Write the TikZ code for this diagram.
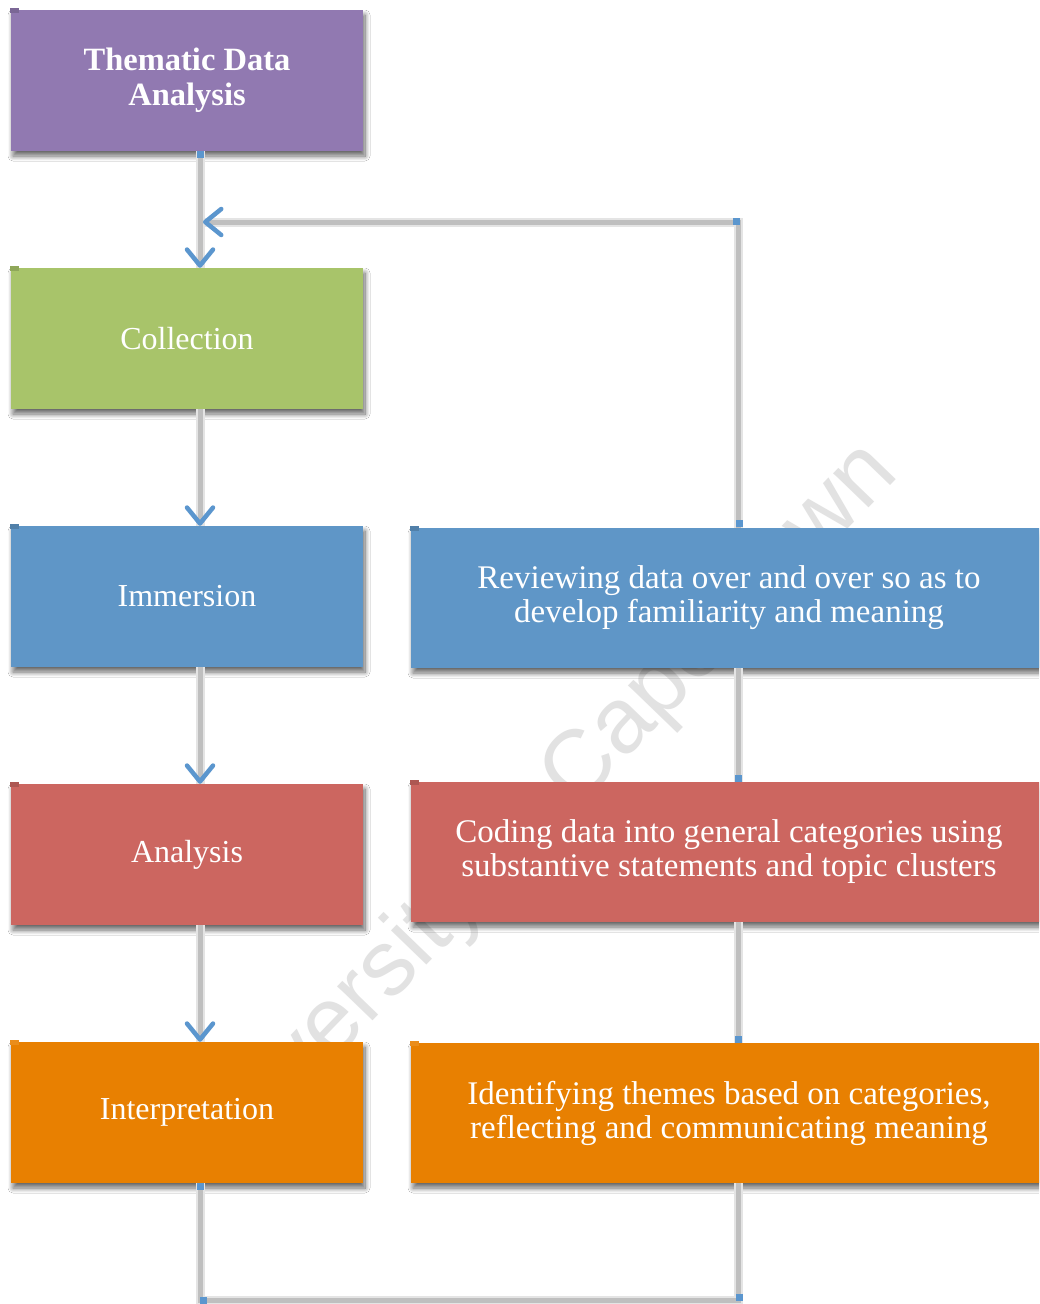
\documentclass[tikz,border=0pt]{standalone}
\usepackage{fontspec}
\setmainfont{Liberation Serif}
\newfontfamily\wmfont{Liberation Sans}
\usetikzlibrary{arrows.meta,shadows.blur,calc}

\definecolor{boxPurple}{HTML}{9179B1}
\definecolor{boxGreen}{HTML}{A8C46A}
\definecolor{boxBlue}{HTML}{5F96C7}
\definecolor{boxRed}{HTML}{CC6660}
\definecolor{boxOrange}{HTML}{E88001}
\definecolor{lineGray}{HTML}{BFBFBF}
\definecolor{lineHalo}{HTML}{E4E4E4}
\definecolor{handBlue}{HTML}{5B96CE}
\definecolor{wmGray}{HTML}{E2E2E2}

% small square marking a connector end
\newcommand\connend[1]{\fill[handBlue] ($(#1)+(-3.5,-3.5)$) rectangle ++(7,7);}
% small tab at the top-left corner of a box
\newcommand\cornertab[2]{\fill[#2] ($(#1.north west)+(-1,-2)$) rectangle ++(9,5);}

\begin{document}
\begin{tikzpicture}[x=1pt,y=-1pt,
  stage/.style={minimum width=352pt, minimum height=141pt, inner sep=0pt,
    text=white, align=center, font=\fontsize{32}{34}\selectfont,
    blur shadow={shadow xshift=2pt, shadow yshift=-5pt,
      shadow blur radius=5pt, shadow blur steps=10, shadow opacity=60}},
  detail/.style={stage, minimum width=636pt, minimum height=140pt,
    font=\fontsize{33}{34}\selectfont},
  conn/.style={draw=lineGray, line width=5pt,
    preaction={draw=lineHalo, line width=9pt, -}},
  tipped/.style={-{Straight Barb[length=16pt, width=26pt, line width=4.5pt,
    round, color=handBlue]}}
]
\useasboundingbox (0,0) rectangle (1039,1304);
\clip (0,0) rectangle (1039,1304);
\fill[white] (0,0) rectangle (1039,1304);

% watermark
\node[rotate=46, anchor=base, text=wmGray,
  font=\wmfont\fontsize{93}{93}\selectfont] (wm) at (552,836)
  {University of Cape Town};

% reference columns
\coordinate (xmain) at (200,0);
\coordinate (xright) at (738,0);
\coordinate (loopTop) at (738,222);
\coordinate (joinPt) at (203,222);
\coordinate (loopBot) at (200,1300);

% main stages
\node[stage, fill=boxPurple, font=\bfseries\fontsize{32.5}{35}\selectfont]
  (tda) at (187,80.5) {Thematic Data\\Analysis};
\node[stage, fill=boxGreen] (coll) at (187,338.5) {Collection};
\node[stage, fill=boxBlue] (imm) at (187,596.5) {Immersion};
\node[stage, fill=boxRed] (ana) at (187,854.5) {Analysis};
\node[stage, fill=boxOrange] (interp) at (187,1112.5) {Interpretation};

% descriptions
\node[detail, fill=boxBlue] (review) at (729,598)
  {Reviewing data over and over so as to\\develop familiarity and meaning};
\node[detail, fill=boxRed] (coding) at (729,852)
  {Coding data into general categories using\\substantive statements and topic clusters};
\node[detail, fill=boxOrange] (ident) at (729,1113)
  {Identifying themes based on categories,\\reflecting and communicating meaning};

\cornertab{tda}{boxPurple!85!black}
\cornertab{coll}{boxGreen!85!black}
\cornertab{imm}{boxBlue!85!black}
\cornertab{ana}{boxRed!85!black}
\cornertab{interp}{boxOrange!90!white}
\cornertab{review}{boxBlue!85!black}
\cornertab{coding}{boxRed!85!black}
\cornertab{ident}{boxOrange!90!white}

% main flow
\draw[conn, tipped] (tda.south -| xmain) -- (coll.north -| xmain);
\draw[conn, tipped] (coll.south -| xmain) -- (imm.north -| xmain);
\draw[conn, tipped] (imm.south -| xmain) -- (ana.north -| xmain);
\draw[conn, tipped] (ana.south -| xmain) -- (interp.north -| xmain);

% loop through the descriptions
\draw[conn] (interp.south -| xmain) -- (loopBot) -| (ident.south -| xright);
\draw[conn] (ident.north -| xright) -- (coding.south -| xright);
\draw[conn] (coding.north -| xright) -- (review.south -| xright);
\draw[conn, tipped] (review.north -| xright) -- (loopTop) -- (joinPt);

% connector end marks
\connend{$(tda.south -| xmain)+(0,3)$}
\connend{$(loopTop)+(-2,-1)$}
\connend{$(review.north -| xright)+(1,-4)$}
\connend{$(coding.north -| xright)+(0,-3)$}
\connend{$(ident.north -| xright)+(0,-3)$}
\connend{$(interp.south -| xmain)+(0,3)$}
\connend{$(loopBot)+(3,0)$}
\connend{$(loopBot -| xright)+(1,-3)$}
\end{tikzpicture}
\end{document}
